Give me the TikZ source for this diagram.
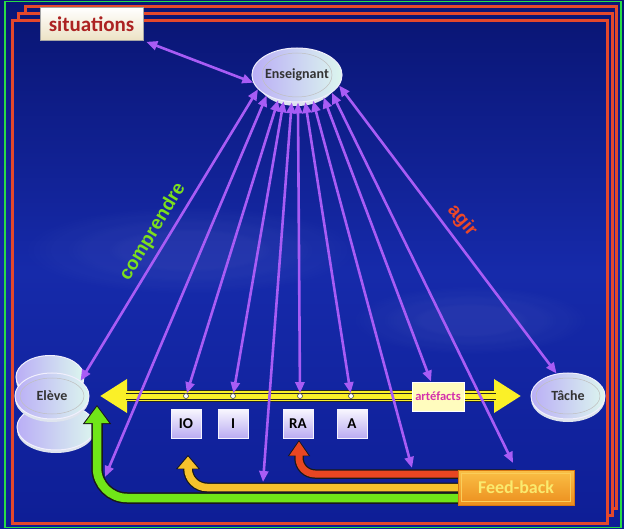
\documentclass[tikz,border=0pt]{standalone}
\usepackage{fontspec}
\setmainfont{Carlito}
\newfontfamily\arialfont{Liberation Sans}
\usetikzlibrary{arrows.meta,shapes.geometric,calc,fadings}

\definecolor{bgtop}{RGB}{10,22,118}
\definecolor{bgmid}{RGB}{22,42,170}
\definecolor{bgbot}{RGB}{14,30,150}
\definecolor{pagered}{RGB}{228,72,44}
\definecolor{edgegreen}{RGB}{40,220,70}
\definecolor{arrowviolet}{RGB}{168,92,245}
\definecolor{lav}{RGB}{186,174,246}
\definecolor{mint}{RGB}{220,246,238}
\definecolor{lavtag}{RGB}{186,172,242}
\definecolor{fbgreen}{RGB}{112,230,24}
\definecolor{fborange}{RGB}{246,194,44}
\definecolor{fbred}{RGB}{232,70,34}
\definecolor{bandyellow}{RGB}{250,240,40}
\definecolor{fbtop}{RGB}{250,192,70}
\definecolor{fbbot}{RGB}{236,142,30}
\definecolor{fbborder}{RGB}{214,120,20}
\definecolor{fbinner}{RGB}{250,205,90}
\definecolor{fbtext}{RGB}{250,234,110}
\definecolor{sitred}{RGB}{172,34,34}
\definecolor{sitcream}{RGB}{236,226,196}
\definecolor{artpink}{RGB}{212,48,172}
\definecolor{artfill}{RGB}{255,252,190}
\definecolor{compgreen}{RGB}{124,224,28}
\definecolor{agirred}{RGB}{236,72,40}
\definecolor{rimgray}{RGB}{222,228,238}

\begin{document}
\begin{tikzpicture}[x=1pt,y=-1pt,
  page/.style={draw=pagered,line width=3pt,top color=bgtop,bottom color=bgbot,middle color=bgmid},
  bubble/.style={ellipse,inner sep=0pt,left color=lav,right color=mint,draw=white!80!lav,line width=1pt,
    text=black!80,font=\bfseries\fontsize{14}{14}\selectfont},
  ring/.style={draw=black!25,line width=0.5pt},
  tagbox/.style={rectangle,minimum width=30pt,minimum height=29pt,inner sep=0pt,top color=white!90!lav,
    bottom color=lavtag,draw=white!85!lav,line width=0.6pt,font=\bfseries\fontsize{15}{15}\selectfont,text=black},
  dot/.style={circle,minimum size=5pt,inner sep=0pt,fill=white,draw=black!70,line width=0.6pt},
  pa/.style={draw=arrowviolet,line width=2.6pt,{Triangle[length=11pt,width=9pt]}-{Triangle[length=11pt,width=9pt]}},
  cloud/.style={white,opacity=0.025,path fading=circle with fuzzy edge 20 percent}
]
\useasboundingbox (0,0) rectangle (624,529);

% backdrop
\fill[top color=bgtop,bottom color=bgbot,middle color=bgmid] (0,0) rectangle (624,529);
\draw[edgegreen,line width=1.2pt] (5,1.5) rectangle (621,527.5);

% stacked pages
\path[page] (25,7) rectangle (616,508);
\path[page] (18,14) rectangle (612,515);
\path[page] (12,21) rectangle (607,523);

% soft cloud patches
\foreach \s in {1,0.75,0.5}{
  \fill[cloud] (190,250) ellipse[x radius=\s*170pt,y radius=\s*45pt];
  \fill[cloud] (470,320) ellipse[x radius=\s*120pt,y radius=\s*35pt];
}

% yellow artefact band
\coordinate (yl) at (100,396);
\coordinate (yr) at (521,396);
\draw[black!85,line width=12pt] (125,396) -- (497,396);
\draw[bandyellow,line width=10pt,{Triangle[length=27pt,width=32pt]}-{Triangle[length=27pt,width=32pt]}] (yl) -- (yr);
\draw[black!85,line width=1pt] (126,393.7) -- (496,393.7);
\draw[black!85,line width=1pt] (126,399.3) -- (496,399.3);

% nodes
\fill[rimgray] (297,79) ellipse[x radius=40pt,y radius=27pt];
\node[bubble,minimum width=80pt,minimum height=54pt] (ens) at (297,75) {Enseignant};
\draw[ring] (297,75) ellipse[x radius=35pt,y radius=22pt];

\fill[rimgray] (56,430) ellipse[x radius=39pt,y radius=23pt];
\node[bubble,minimum width=78pt,minimum height=46pt] (eleveb) at (56,427) {};
\fill[rimgray] (50,380) ellipse[x radius=34pt,y radius=22pt];
\node[bubble,minimum width=68pt,minimum height=43pt] (elevet) at (50,377) {};
\fill[rimgray] (52,399) ellipse[x radius=37pt,y radius=23pt];
\node[bubble,minimum width=74pt,minimum height=46pt] (eleve) at (52,396) {Elève};
\draw[ring] (52,396) ellipse[x radius=32pt,y radius=18pt];

\fill[rimgray] (568,399) ellipse[x radius=37pt,y radius=23pt];
\node[bubble,minimum width=74pt,minimum height=46pt] (tache) at (568,396) {Tâche};
\draw[ring] (568,396) ellipse[x radius=32pt,y radius=18pt];

\node[rectangle,minimum width=103pt,minimum height=33pt,inner sep=0pt,top color=white,bottom color=sitcream,
  draw=black!35,line width=0.6pt,text=sitred,font=\bfseries\fontsize{21}{21}\selectfont] (sit) at (91.5,24) {situations};

\node[tagbox] (io) at (186,423.5) {IO};
\node[tagbox] (i) at (233,423.5) {I};
\node[tagbox] (ra) at (298,423.5) {RA};
\node[tagbox] (a) at (352,423.5) {A};

\node[dot] (d1) at (186,396) {};
\node[dot] (d2) at (233,396) {};
\node[dot] (d3) at (300,396) {};
\node[dot] (d4) at (351,396) {};

\node[rectangle,minimum width=52pt,minimum height=29pt,inner sep=0pt,fill=artfill,
  draw=white,line width=0.8pt,text=artpink,font=\bfseries\fontsize{12.5}{12.5}\selectfont] (art) at (438,396.5) {artéfacts};

% feed-back loops
\coordinate (gtip) at (97,405);
\coordinate (otip) at (188,455);
\coordinate (rtip) at (299,440);
\coordinate (gstart) at (516,498);
\coordinate (ostart) at (516,487.5);
\coordinate (rstart) at (516,474);
\draw[black!90,line width=11.5pt,rounded corners=30pt,-{Triangle[length=19pt,width=27pt]}] (gstart) -| (gtip);
\draw[fbgreen,line width=8.5pt,rounded corners=30pt,shorten >=1.5pt,-{Triangle[length=16.5pt,width=23pt]}] (gstart) -| (gtip);
\draw[black!90,line width=10pt,rounded corners=19pt,-{Triangle[length=14pt,width=23pt]}] (ostart) -| (otip);
\draw[fborange,line width=7.5pt,rounded corners=19pt,shorten >=1.5pt,-{Triangle[length=12pt,width=19.5pt]}] (ostart) -| (otip);
\draw[black!90,line width=9.5pt,rounded corners=16pt,-{Triangle[length=16pt,width=21pt]}] (rstart) -| (rtip);
\draw[fbred,line width=7pt,rounded corners=16pt,shorten >=1.5pt,-{Triangle[length=14pt,width=18pt]}] (rstart) -| (rtip);

\node[rectangle,minimum width=116pt,minimum height=35pt,inner sep=0pt,top color=fbtop,bottom color=fbbot,
  draw=fbborder,line width=1pt,text=fbtext,font=\bfseries\fontsize{18}{18}\selectfont] (fb) at (516,487.5) {Feed-back};
\draw[fbinner,line width=0.6pt] ($(fb.north west)+(4,4)$) rectangle ($(fb.south east)+(-4,-4)$);

% free ends of the teacher's arrows
\coordinate (pb) at (105,477);
\coordinate (pe) at (263,482);
\coordinate (ph) at (412,468);
\coordinate (pj) at (513,463);

% teacher's links
\draw[pa] ([xshift=3pt,yshift=-1pt]sit.south east) -- (ens.190);
\draw[pa] (ens.200) -- (eleve.28);
\draw[pa] (ens.214) -- (pb);
\draw[pa] (ens.233) -- (d1);
\draw[pa] (ens.243) -- (d2);
\draw[pa] (ens.259) -- (pe);
\draw[pa] (ens.272) -- (d3);
\draw[pa] (ens.287) -- (d4);
\draw[pa] (ens.302) -- (ph);
\draw[pa] (ens.320) -- ([xshift=-7pt]art.north);
\draw[pa] (ens.333) -- (pj);
\draw[pa] (ens.346) -- (tache.117);

% verbs
\node[rotate=59,text=compgreen,font=\arialfont\bfseries\fontsize{19}{19}\selectfont] (comp) at (153,232) {comprendre};
\node[rotate=-50,text=agirred,font=\arialfont\bfseries\fontsize{19}{19}\selectfont] (agir) at (462,221) {agir};
\end{tikzpicture}
\end{document}
